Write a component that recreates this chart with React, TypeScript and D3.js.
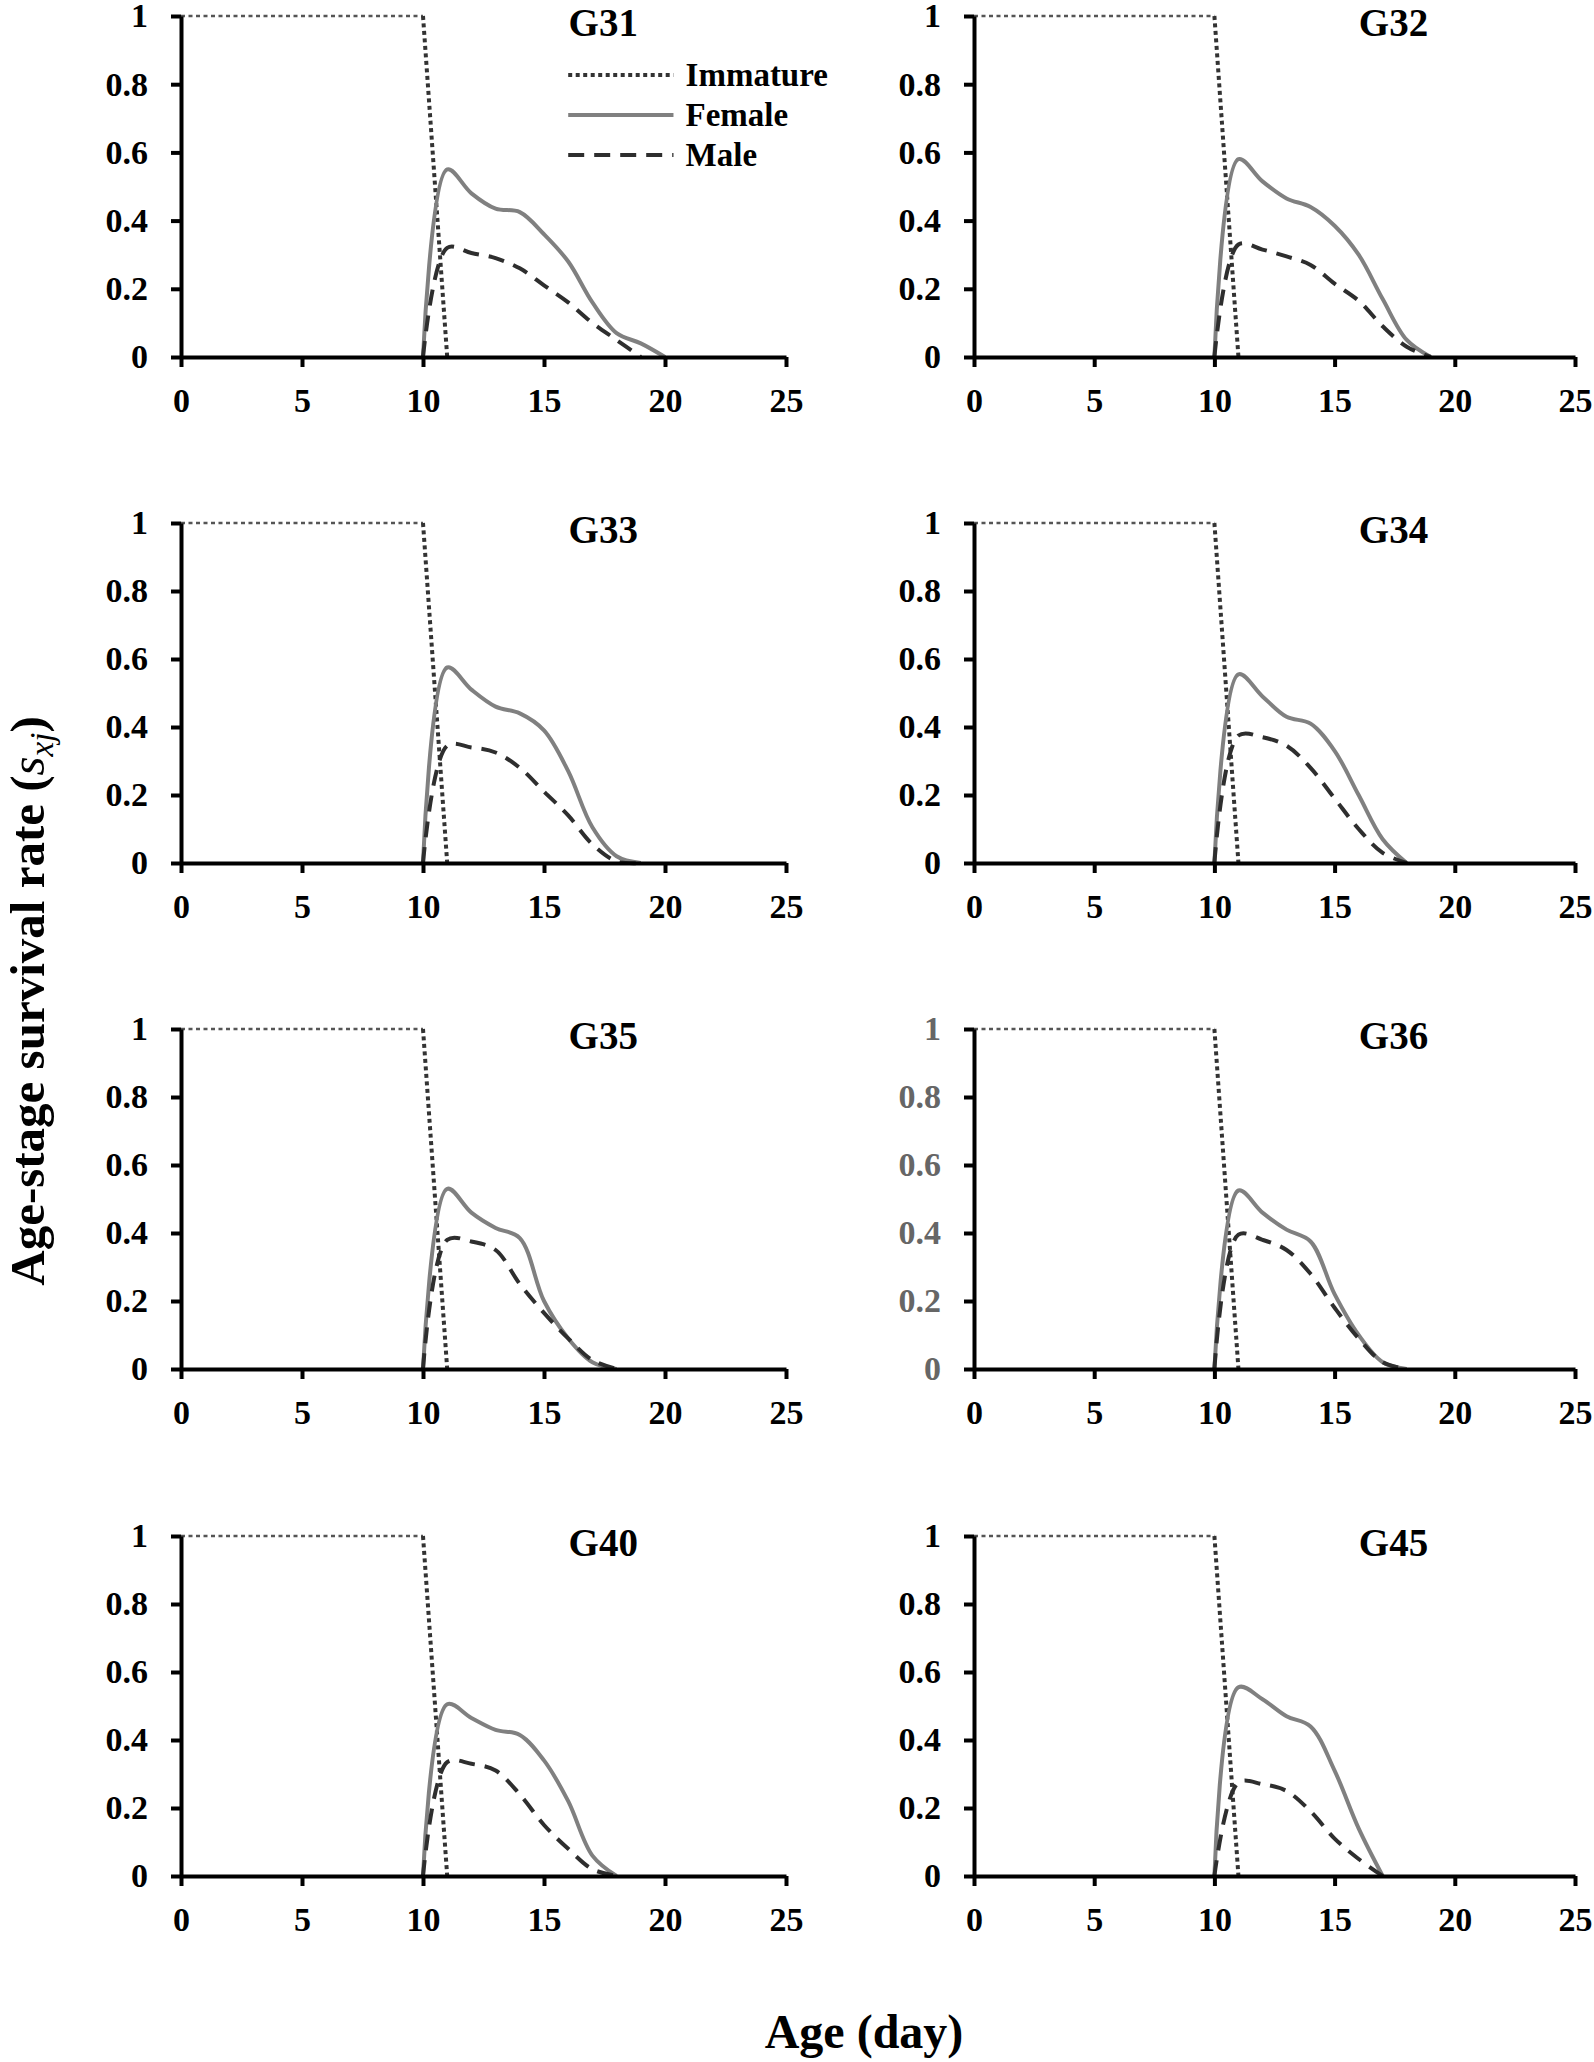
import { useRef, useEffect } from 'react';
import * as d3 from 'd3';

// generations shown in each panel, read row by row
const panelNames = ['G31', 'G32', 'G33', 'G34', 'G35', 'G36', 'G40', 'G45'];

// immature stage: survival 1 up to day 10, gone by day 11
const immatureAges = [0, 10, 11];
const immatureRates = [1, 1, 0];

// adult curves start at day 10, one value per day
const adultStartDay = 10;
const femaleRates = [
    [0, 0.55, 0.48, 0.435, 0.425, 0.36, 0.28, 0.16, 0.07, 0.04, 0],
    [0, 0.58, 0.515, 0.465, 0.44, 0.385, 0.30, 0.17, 0.05, 0],
    [0, 0.575, 0.51, 0.46, 0.44, 0.39, 0.27, 0.105, 0.02, 0],
    [0, 0.555, 0.49, 0.43, 0.41, 0.33, 0.20, 0.07, 0],
    [0, 0.53, 0.46, 0.415, 0.385, 0.20, 0.09, 0.02, 0],
    [0, 0.525, 0.46, 0.41, 0.375, 0.22, 0.10, 0.02, 0],
    [0, 0.505, 0.465, 0.43, 0.415, 0.34, 0.22, 0.06, 0],
    [0, 0.555, 0.52, 0.47, 0.44, 0.31, 0.14, 0],
];
const maleRates = [
    [0, 0.32, 0.305, 0.29, 0.26, 0.21, 0.16, 0.10, 0.05, 0],
    [0, 0.33, 0.315, 0.295, 0.27, 0.215, 0.165, 0.09, 0.03, 0],
    [0, 0.345, 0.34, 0.325, 0.28, 0.21, 0.14, 0.055, 0.005, 0],
    [0, 0.375, 0.37, 0.345, 0.28, 0.19, 0.10, 0.03, 0],
    [0, 0.38, 0.375, 0.35, 0.25, 0.165, 0.09, 0.026, 0],
    [0, 0.395, 0.38, 0.35, 0.28, 0.18, 0.09, 0.02, 0],
    [0, 0.335, 0.33, 0.31, 0.24, 0.15, 0.08, 0.02, 0],
    [0, 0.275, 0.27, 0.25, 0.19, 0.11, 0.05, 0],
];

const xTicks = [0, 5, 10, 15, 20, 25];
const yTicks = [0, 0.2, 0.4, 0.6, 0.8, 1];
const legendLabels = ['Immature', 'Female', 'Male'];
const yAxisTitle = 'Age-stage survival rate (';
const xAxisTitle = 'Age (day)';

const FONT = '"Liberation Serif", "Times New Roman", serif';
const W = 1594;
const H = 2062;
const colLeft = [181, 974];
const colRight = [786, 1575];
const rowTop = [16, 523, 1029, 1536];
const rowBottom = [357, 863, 1369, 1876];

const styles = {
    immature: { stroke: '#333', width: 4, dash: '4,3.5' },
    female: { stroke: '#808080', width: 4, dash: null as string | null },
    male: { stroke: '#2e2e2e', width: 4, dash: '16,10' },
};

export default function App() {
    const svgRef = useRef<SVGSVGElement>(null);

    useEffect(() => {
        if (!svgRef.current) return;
        const svg = d3.select(svgRef.current);
        svg.selectAll('*').remove();

        svg.append('rect').attr('width', W).attr('height', H).attr('fill', '#fff');

        panelNames.forEach((name, i) => {
            const col = i % 2;
            const row = Math.floor(i / 2);
            const x = d3.scaleLinear().domain([0, 25]).range([colLeft[col], colRight[col]]);
            const y = d3.scaleLinear().domain([0, 1]).range([rowBottom[row], rowTop[row]]);
            const g = svg.append('g');

            const straight = d3.line<[number, number]>().x(d => x(d[0])).y(d => y(d[1]));
            const smooth = d3.line<[number, number]>()
                .x(d => x(d[0]))
                .y(d => y(d[1]))
                .curve(d3.curveCatmullRom.alpha(0.5));

            const imm: [number, number][] = immatureAges.map((a, k) => [a, immatureRates[k]]);
            const fem: [number, number][] = femaleRates[i].map((v, k) => [adultStartDay + k, v]);
            const mal: [number, number][] = maleRates[i].map((v, k) => [adultStartDay + k, v]);

            const drawLine = (pts: [number, number][], gen: d3.Line<[number, number]>, s: typeof styles.male) => {
                const p = g.append('path')
                    .attr('d', gen(pts))
                    .attr('fill', 'none')
                    .attr('stroke', s.stroke)
                    .attr('stroke-width', s.width);
                if (s.dash) p.attr('stroke-dasharray', s.dash);
                return p;
            };
            // the flat part at 1 reads thinner than the drop in the original
            drawLine(imm.slice(0, 2), straight, { ...styles.immature, width: 2.5, stroke: '#555' });
            drawLine(imm.slice(1), straight, styles.immature);
            drawLine(fem, smooth, styles.female);
            drawLine(mal, smooth, styles.male);

            // axes
            const tickColor = name === 'G36' ? '#666' : '#000';
            const xAxis = g.append('g')
                .attr('transform', `translate(0,${rowBottom[row]})`)
                .call(d3.axisBottom(x).tickValues(xTicks).tickSize(10).tickSizeOuter(0).tickPadding(21).tickFormat(d3.format('d')));
            const yAxis = g.append('g')
                .attr('transform', `translate(${colLeft[col]},0)`)
                .call(d3.axisLeft(y).tickValues(yTicks).tickSize(10).tickSizeOuter(0).tickPadding(23)
                    .tickFormat(d => (+d === 0 || +d === 1 ? String(d) : d3.format('.1f')(+d))));

            [xAxis, yAxis].forEach(ax => {
                ax.select('.domain').attr('stroke', '#000').attr('stroke-width', 4);
                ax.selectAll('.tick line').attr('stroke', '#000').attr('stroke-width', 4);
                ax.selectAll('.tick text')
                    .attr('font-family', FONT)
                    .attr('font-weight', 'bold')
                    .attr('font-size', 34)
                    .attr('fill', '#000');
            });
            yAxis.selectAll('.tick text').attr('fill', tickColor);

            // panel title
            g.append('text')
                .attr('x', x(17.45))
                .attr('y', rowTop[row] + 20)
                .attr('text-anchor', 'middle')
                .attr('font-family', FONT)
                .attr('font-weight', 'bold')
                .attr('font-size', 39)
                .text(name);

            // legend lives in the first panel only
            if (i === 0) {
                const legendStyles = [styles.immature, styles.female, styles.male];
                legendLabels.forEach((lab, k) => {
                    const ly = rowTop[row] + 59 + k * 40;
                    const s = legendStyles[k];
                    const l = g.append('line')
                        .attr('x1', x(16)).attr('x2', x(20.35))
                        .attr('y1', ly).attr('y2', ly)
                        .attr('stroke', s.stroke)
                        .attr('stroke-width', s.width);
                    if (s.dash) l.attr('stroke-dasharray', s.dash);
                    g.append('text')
                        .attr('x', x(20.85))
                        .attr('y', ly + 11)
                        .attr('font-family', FONT)
                        .attr('font-weight', 'bold')
                        .attr('font-size', 33)
                        .text(lab);
                });
            }
        });

        // shared axis titles
        const yt = svg.append('text')
            .attr('transform', 'translate(44,1001) rotate(-90)')
            .attr('text-anchor', 'middle')
            .attr('font-family', FONT)
            .attr('font-weight', 'bold')
            .attr('font-size', 49);
        yt.append('tspan').text(yAxisTitle);
        yt.append('tspan').attr('font-style', 'italic').attr('font-weight', 'normal').text('s');
        yt.append('tspan').attr('font-style', 'italic').attr('font-weight', 'normal').attr('font-size', 33).attr('dy', 9).text('xj');
        yt.append('tspan').attr('dy', -9).text(')');

        svg.append('text')
            .attr('x', 864)
            .attr('y', 2048)
            .attr('text-anchor', 'middle')
            .attr('font-family', FONT)
            .attr('font-weight', 'bold')
            .attr('font-size', 48)
            .text(xAxisTitle);
    }, []);

    return (
        <div style={{ position: 'absolute', left: 0, top: 0 }}>
            <svg ref={svgRef} width={W} height={H} style={{ display: 'block' }} />
        </div>
    );
}
